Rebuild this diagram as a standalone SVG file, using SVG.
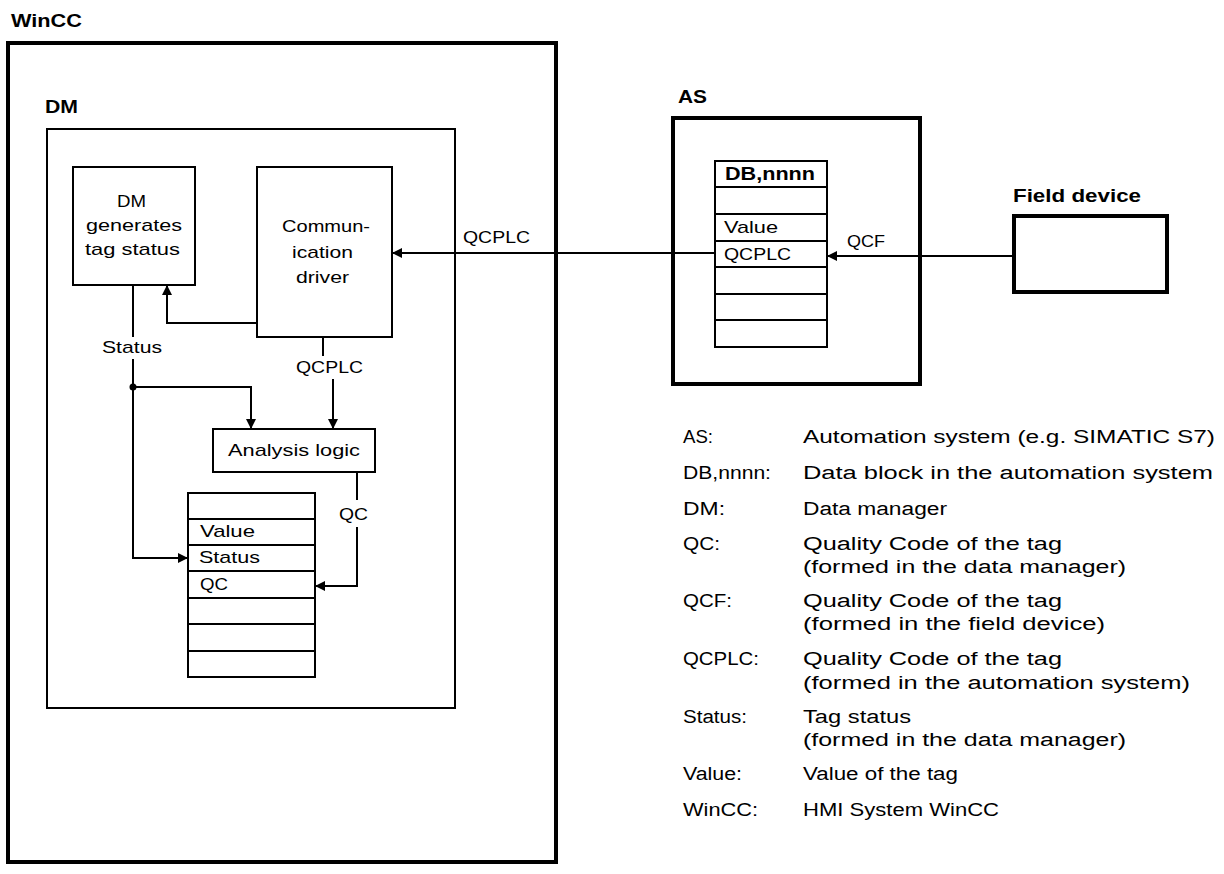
<svg xmlns="http://www.w3.org/2000/svg" width="1224" height="874" viewBox="0 0 1224 874">
<defs>
<marker id="ah" markerUnits="userSpaceOnUse" markerWidth="11" markerHeight="11" refX="10" refY="5" orient="auto">
<path d="M0,0 L10,5 L0,10 z" fill="#000"/>
</marker>
<style>
.thin{fill:none;stroke:#000;stroke-width:2}
.thick{fill:none;stroke:#000;stroke-width:4}
.t{font-family:"Liberation Sans",Arial,sans-serif;font-size:17px;fill:#000}
.b{font-family:"Liberation Sans",Arial,sans-serif;font-size:18px;font-weight:bold;fill:#000}
.l{font-family:"Liberation Sans",Arial,sans-serif;font-size:18px;fill:#000}
.c{text-anchor:middle}
.con{fill:none;stroke:#000;stroke-width:2}
</style>
</defs>
<rect width="1224" height="874" fill="#fff"/>

<g id="wincc">
<text class="b" x="11" y="27" textLength="71" lengthAdjust="spacingAndGlyphs">WinCC</text>
<rect class="thick" x="8" y="43" width="548" height="819"/>
</g>

<g id="dm">
<text class="b" x="45" y="113" textLength="33" lengthAdjust="spacingAndGlyphs">DM</text>
<rect class="thin" x="47" y="129" width="408" height="579"/>
</g>

<g id="dm-generates">
<rect class="thin" x="73" y="167" width="122" height="118"/>
<text class="t" x="117" y="207" textLength="29" lengthAdjust="spacingAndGlyphs">DM</text>
<text class="t" x="86" y="231" textLength="96" lengthAdjust="spacingAndGlyphs">generates</text>
<text class="t" x="85" y="255" textLength="95" lengthAdjust="spacingAndGlyphs">tag status</text>
</g>

<g id="comm-driver">
<rect class="thin" x="257" y="167" width="135" height="170"/>
<text class="t" x="282" y="232" textLength="88" lengthAdjust="spacingAndGlyphs">Commun-</text>
<text class="t" x="292" y="258" textLength="61" lengthAdjust="spacingAndGlyphs">ication</text>
<text class="t" x="296" y="283" textLength="53" lengthAdjust="spacingAndGlyphs">driver</text>
</g>

<g id="analysis-logic">
<rect class="thin" x="213" y="429" width="162" height="43"/>
<text class="t" x="228" y="456" textLength="132" lengthAdjust="spacingAndGlyphs">Analysis logic</text>
</g>

<g id="dm-table">
<rect class="thin" x="188" y="493" width="127" height="184"/>
<path class="thin" d="M188,519H315M188,545H315M188,571H315M188,598H315M188,624H315M188,651H315"/>
<text class="t" x="200" y="537" textLength="55" lengthAdjust="spacingAndGlyphs">Value</text>
<text class="t" x="199" y="563" textLength="61" lengthAdjust="spacingAndGlyphs">Status</text>
<text class="t" x="200" y="590" textLength="28" lengthAdjust="spacingAndGlyphs">QC</text>
</g>

<g id="as">
<text class="b" x="678" y="103" textLength="29" lengthAdjust="spacingAndGlyphs">AS</text>
<rect class="thick" x="673" y="118" width="247" height="266"/>
</g>

<g id="db-table">
<rect class="thin" x="715" y="161" width="112" height="186"/>
<path class="thin" d="M715,187H827M715,214H827M715,241H827M715,267H827M715,294H827M715,320H827"/>
<text class="b" x="725" y="180" textLength="90" lengthAdjust="spacingAndGlyphs">DB,nnnn</text>
<text class="t" x="724" y="233" textLength="54" lengthAdjust="spacingAndGlyphs">Value</text>
<text class="t" x="724" y="260" textLength="67" lengthAdjust="spacingAndGlyphs">QCPLC</text>
</g>

<g id="field-device">
<text class="b" x="1013" y="202" textLength="128" lengthAdjust="spacingAndGlyphs">Field device</text>
<rect class="thick" x="1014" y="216" width="153" height="76"/>
</g>

<g id="connectors">
<path class="con" d="M715,253H392" marker-end="url(#ah)"/>
<text class="t" x="463" y="243" textLength="67" lengthAdjust="spacingAndGlyphs">QCPLC</text>
<path class="con" d="M1014,256H827" marker-end="url(#ah)"/>
<text class="t" x="847" y="247" textLength="38" lengthAdjust="spacingAndGlyphs">QCF</text>
<path class="con" d="M257,323H167V285" marker-end="url(#ah)"/>
<path class="con" d="M133,285V337"/>
<text class="t" x="102" y="353" textLength="60" lengthAdjust="spacingAndGlyphs">Status</text>
<path class="con" d="M133,359V558H188" marker-end="url(#ah)"/>
<circle cx="133" cy="387" r="3.5" fill="#000"/>
<path class="con" d="M133,387H251V429" marker-end="url(#ah)"/>
<path class="con" d="M323,337V356"/>
<text class="t" x="296" y="373" textLength="67" lengthAdjust="spacingAndGlyphs">QCPLC</text>
<path class="con" d="M333,379V429" marker-end="url(#ah)"/>
<path class="con" d="M357,472V500"/>
<text class="t" x="339" y="520" textLength="29" lengthAdjust="spacingAndGlyphs">QC</text>
<path class="con" d="M357,527V586H315" marker-end="url(#ah)"/>
</g>

<g id="legend">
<text class="l" x="683" y="443" textLength="30" lengthAdjust="spacingAndGlyphs">AS:</text>
<text class="l" x="803" y="443" textLength="412" lengthAdjust="spacingAndGlyphs">Automation system (e.g. SIMATIC S7)</text>
<text class="l" x="683" y="479" textLength="88" lengthAdjust="spacingAndGlyphs">DB,nnnn:</text>
<text class="l" x="803" y="479" textLength="410" lengthAdjust="spacingAndGlyphs">Data block in the automation system</text>
<text class="l" x="683" y="515" textLength="42" lengthAdjust="spacingAndGlyphs">DM:</text>
<text class="l" x="803" y="515" textLength="144" lengthAdjust="spacingAndGlyphs">Data manager</text>
<text class="l" x="683" y="550" textLength="37" lengthAdjust="spacingAndGlyphs">QC:</text>
<text class="l" x="803" y="550" textLength="259" lengthAdjust="spacingAndGlyphs">Quality Code of the tag</text>
<text class="l" x="803" y="573" textLength="323" lengthAdjust="spacingAndGlyphs">(formed in the data manager)</text>
<text class="l" x="683" y="607" textLength="49" lengthAdjust="spacingAndGlyphs">QCF:</text>
<text class="l" x="803" y="607" textLength="259" lengthAdjust="spacingAndGlyphs">Quality Code of the tag</text>
<text class="l" x="803" y="630" textLength="302" lengthAdjust="spacingAndGlyphs">(formed in the field device)</text>
<text class="l" x="683" y="665" textLength="76" lengthAdjust="spacingAndGlyphs">QCPLC:</text>
<text class="l" x="803" y="665" textLength="259" lengthAdjust="spacingAndGlyphs">Quality Code of the tag</text>
<text class="l" x="803" y="689" textLength="387" lengthAdjust="spacingAndGlyphs">(formed in the automation system)</text>
<text class="l" x="683" y="723" textLength="64" lengthAdjust="spacingAndGlyphs">Status:</text>
<text class="l" x="803" y="723" textLength="108" lengthAdjust="spacingAndGlyphs">Tag status</text>
<text class="l" x="803" y="746" textLength="323" lengthAdjust="spacingAndGlyphs">(formed in the data manager)</text>
<text class="l" x="683" y="780" textLength="59" lengthAdjust="spacingAndGlyphs">Value:</text>
<text class="l" x="803" y="780" textLength="155" lengthAdjust="spacingAndGlyphs">Value of the tag</text>
<text class="l" x="683" y="816" textLength="75" lengthAdjust="spacingAndGlyphs">WinCC:</text>
<text class="l" x="803" y="816" textLength="196" lengthAdjust="spacingAndGlyphs">HMI System WinCC</text>
</g>
</svg>
